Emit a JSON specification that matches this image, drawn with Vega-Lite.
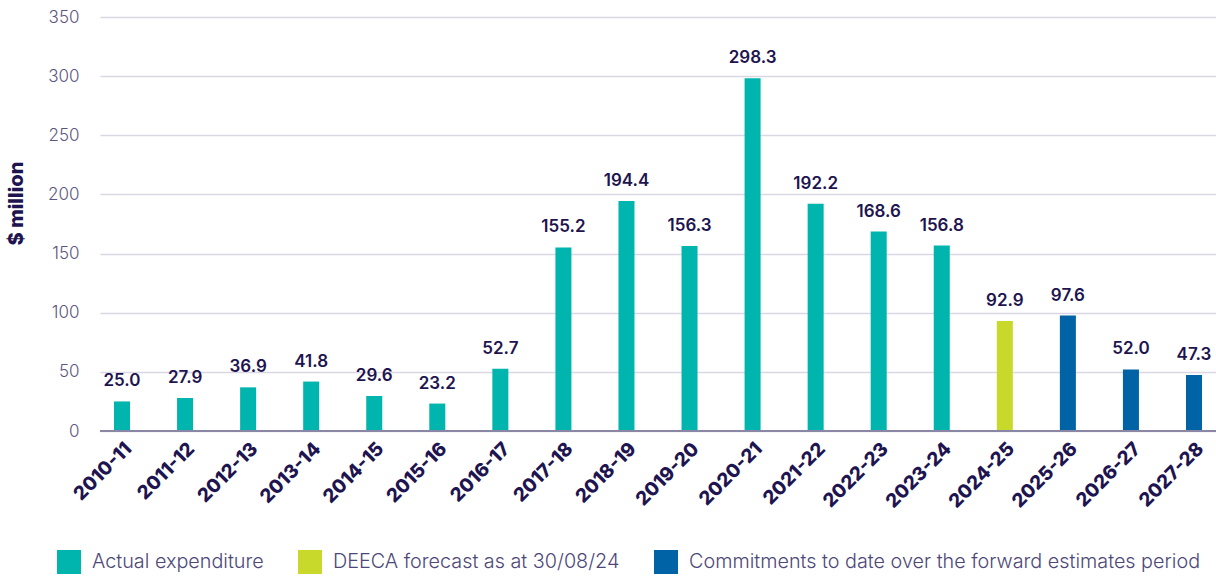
{
  "$schema": "https://vega.github.io/schema/vega-lite/v6.json",
  "width": 1116,
  "height": 414,
  "autosize": {"type": "none"},
  "padding": {"left": 100, "top": 17, "right": 0, "bottom": 145},
  "background": "white",
  "config": {
    "view": {"stroke": null},
    "font": "Inter"
  },
  "data": {
    "values": [
      {"year": "2010-11", "value": 25.0, "type": "Actual expenditure"},
      {"year": "2011-12", "value": 27.9, "type": "Actual expenditure"},
      {"year": "2012-13", "value": 36.9, "type": "Actual expenditure"},
      {"year": "2013-14", "value": 41.8, "type": "Actual expenditure"},
      {"year": "2014-15", "value": 29.6, "type": "Actual expenditure"},
      {"year": "2015-16", "value": 23.2, "type": "Actual expenditure"},
      {"year": "2016-17", "value": 52.7, "type": "Actual expenditure"},
      {"year": "2017-18", "value": 155.2, "type": "Actual expenditure"},
      {"year": "2018-19", "value": 194.4, "type": "Actual expenditure"},
      {"year": "2019-20", "value": 156.3, "type": "Actual expenditure"},
      {"year": "2020-21", "value": 298.3, "type": "Actual expenditure"},
      {"year": "2021-22", "value": 192.2, "type": "Actual expenditure"},
      {"year": "2022-23", "value": 168.6, "type": "Actual expenditure"},
      {"year": "2023-24", "value": 156.8, "type": "Actual expenditure"},
      {"year": "2024-25", "value": 92.9, "type": "DEECA forecast as at 30/08/24"},
      {"year": "2025-26", "value": 97.6, "type": "Commitments to date over the forward estimates period"},
      {"year": "2026-27", "value": 52.0, "type": "Commitments to date over the forward estimates period"},
      {"year": "2027-28", "value": 47.3, "type": "Commitments to date over the forward estimates period"}
    ]
  },
  "encoding": {
    "x": {
      "field": "year",
      "type": "ordinal",
      "sort": null,
      "scale": {"paddingInner": 0.746, "paddingOuter": 0.222},
      "axis": {
        "title": null,
        "labelAngle": -45,
        "labelAlign": "right",
        "labelBaseline": "top",
        "labelFontSize": 19,
        "labelFontWeight": 800,
        "labelColor": "#1e1450",
        "labelPadding": 8,
        "ticks": false,
        "domain": false
      }
    },
    "y": {
      "field": "value",
      "type": "quantitative",
      "scale": {"domain": [0, 350]},
      "axis": {
        "title": "$ million",
        "titleFontSize": 20,
        "titleFontWeight": 800,
        "titleColor": "#1e1450",
        "titleAngle": -90,
        "titleX": -84,
        "titleY": 186,
        "titleAlign": "center",
        "titleBaseline": "middle",
        "values": [0, 50, 100, 150, 200, 250, 300, 350],
        "labelFontSize": 17,
        "labelFontWeight": 300,
        "labelColor": "#5b5680",
        "labelPadding": 21,
        "ticks": false,
        "domain": false,
        "gridColor": "#d9d7e4",
        "gridWidth": 1.5
      }
    }
  },
  "layer": [
    {
      "mark": {"type": "bar"},
      "encoding": {
        "color": {
          "field": "type",
          "type": "nominal",
          "scale": {
            "domain": ["Actual expenditure", "DEECA forecast as at 30/08/24", "Commitments to date over the forward estimates period"],
            "range": ["#00b5ad", "#c9d92c", "#0063a6"]
          },
          "legend": {
            "title": null,
            "orient": "none",
            "direction": "horizontal",
            "legendX": -43,
            "legendY": 533,
            "symbolType": "square",
            "symbolSize": 576,
            "symbolStrokeWidth": 0,
            "symbolOpacity": 1,
            "labelFontSize": 19.8,
            "labelFontWeight": 300,
            "labelColor": "#4d4878",
            "labelOffset": 11,
            "columnPadding": 34,
            "labelLimit": 700
          }
        }
      }
    },
    {
      "mark": {"type": "rule", "color": "#8a86a6", "strokeWidth": 2},
      "encoding": {"y": {"datum": 0}, "x": null}
    },
    {
      "mark": {"type": "text", "dy": -11, "fontSize": 17, "fontWeight": 600, "color": "#1e1450", "baseline": "bottom"},
      "encoding": {
        "text": {"field": "value", "type": "quantitative", "format": ".1f"}
      }
    }
  ]
}
